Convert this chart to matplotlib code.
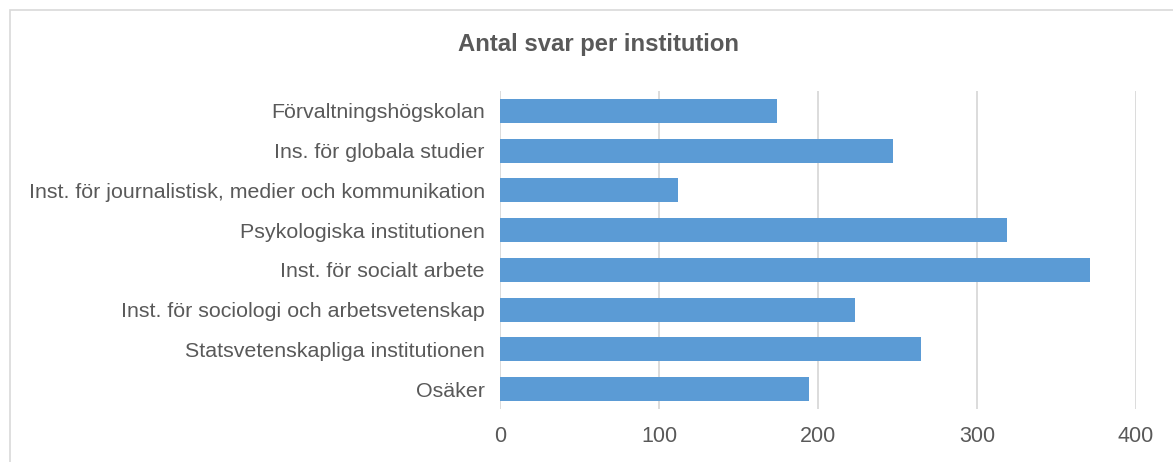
import matplotlib
matplotlib.use("Agg")
import matplotlib.pyplot as plt
from matplotlib.patches import Rectangle

plt.rcParams['font.family'] = ['Liberation Sans', 'DejaVu Sans']

# data (top to bottom as shown)
institutions = [
    "Förvaltningshögskolan",
    "Ins. för globala studier",
    "Inst. för journalistisk, medier och kommunikation",
    "Psykologiska institutionen",
    "Inst. för socialt arbete",
    "Inst. för sociologi och arbetsvetenskap",
    "Statsvetenskapliga institutionen",
    "Osäker",
]
svar = [174, 247, 112, 319, 371, 223, 265, 194]
xticks = [0, 100, 200, 300, 400]

text_col = '#595959'
grid_col = '#d9d9d9'
bar_col = '#5b9bd5'

fig = plt.figure(figsize=(11.73, 4.62), dpi=100)
ax = fig.add_axes([0.4263, 0.1147, 0.5422, 0.6883])

ypos = list(range(len(institutions)))[::-1]
ax.barh(ypos, svar, height=0.6, color=bar_col, zorder=3)

ax.set_xlim(0, 400)
ax.set_ylim(-0.5, len(institutions) - 0.5)
ax.set_xticks(xticks)
ax.set_xticklabels([str(t) for t in xticks], fontsize=15.5, color=text_col)
ax.set_yticks(ypos)
ax.set_yticklabels(institutions, fontsize=15.4, color=text_col)
ax.tick_params(length=0)
ax.tick_params(axis='y', pad=11)
ax.tick_params(axis='x', pad=12)
ax.grid(axis='x', color=grid_col, linewidth=1.3, zorder=0)
for s in ax.spines.values():
    s.set_visible(False)

fig.text(0.51, 0.903, "Antal svar per institution", ha='center', va='center',
         fontsize=17.2, fontweight='bold', color=text_col)

# chart border
fig.patches.append(Rectangle((10 / 1173, -0.01), 1.0, 1 - 10 / 462 + 0.01,
                             transform=fig.transFigure, fill=False,
                             edgecolor=grid_col, linewidth=1.2))

fig.savefig("out.png", dpi=100)
